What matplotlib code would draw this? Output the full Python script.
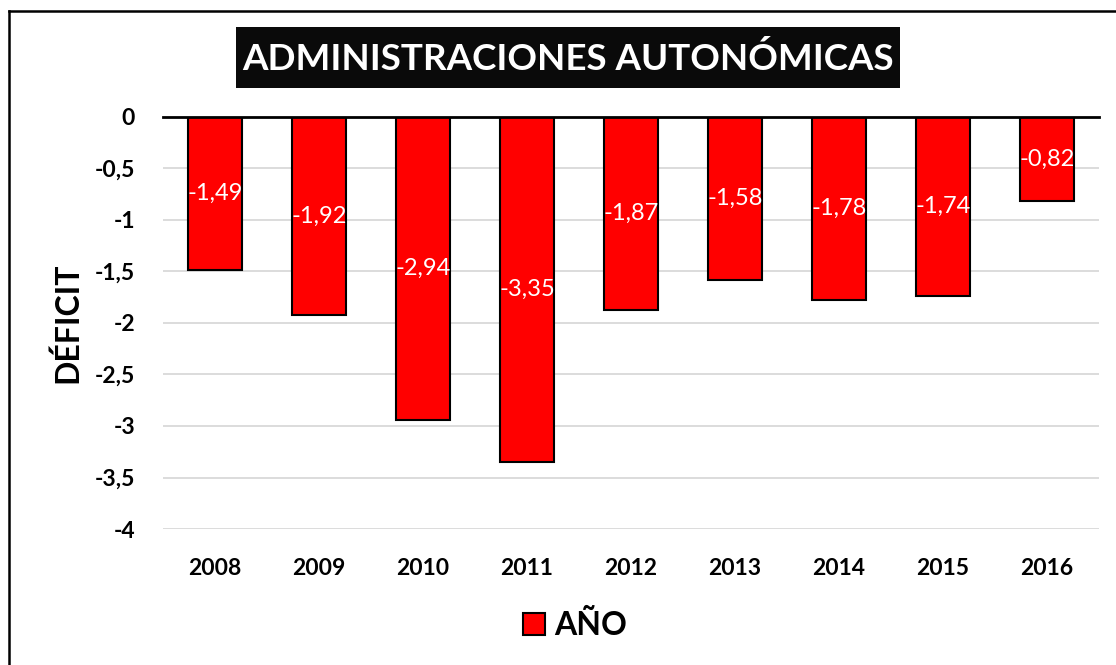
import numpy as np
import matplotlib
matplotlib.use("Agg")
import matplotlib.pyplot as plt
from matplotlib.patches import Patch, Rectangle
from matplotlib.lines import Line2D

# --- DATOS ---
years = ["2008", "2009", "2010", "2011", "2012", "2013", "2014", "2015", "2016"]
deficit = [-1.49, -1.92, -2.94, -3.35, -1.87, -1.58, -1.78, -1.74, -0.82]
yticks = [0, -0.5, -1, -1.5, -2, -2.5, -3, -3.5, -4]

plt.rcParams['font.family'] = ['Lato', 'DejaVu Sans']

W, H = 1116, 665
fig = plt.figure(figsize=(W / 100, H / 100), dpi=100)
ax = fig.add_axes([163 / W, 1 - 529 / H, 936 / W, 412 / H])

x = np.arange(len(years))
ax.bar(x, deficit, width=0.51, color='#ff0000', edgecolor='black', linewidth=1.5, zorder=3)

for xi, v in zip(x, deficit):
    ax.text(xi, v / 2, f"{v:.2f}".replace('.', ','), ha='center', va='center',
            color='white', fontsize=17, zorder=4)

ax.set_xlim(-0.5, len(years) - 0.5)
ax.set_ylim(-4, 0)
ax.set_yticks(yticks)
ax.set_yticklabels([f"{t:g}".replace('.', ',') for t in yticks], fontsize=16.5, fontweight='bold')
ax.set_xticks(x)
ax.set_xticklabels(years, fontsize=16.5, fontweight='bold')
ax.tick_params(axis='y', length=0, pad=20)
ax.tick_params(axis='x', length=0, pad=21)
ax.grid(axis='y', color='#d9d9d9', linewidth=1.3, zorder=0)
for s in ['left', 'right', 'bottom']:
    ax.spines[s].set_visible(False)
ax.spines['top'].set_linewidth(2)
ax.spines['top'].set_zorder(5)

ax.set_ylabel("DÉFICIT", fontsize=23, fontweight='bold')
ax.yaxis.set_label_coords(-(163 - 67) / 936, 0.5)
ax.yaxis.label.set_va('center')

# Titulo en recuadro negro
fig.add_artist(Rectangle((236 / W, 1 - 88 / H), 664 / W, 61 / H, transform=fig.transFigure,
                         facecolor='#0a0a0a', edgecolor='none'))
fig.text(568 / W, 1 - 59 / H, "ADMINISTRACIONES AUTONÓMICAS", ha='center', va='center',
         color='white', fontsize=26.5, fontweight='bold')

# Leyenda
handle = Patch(facecolor='#ff0000', edgecolor='black', linewidth=1.5)
fig.legend([handle], ["AÑO"], loc='center', bbox_to_anchor=(575 / W, 1 - 625 / H),
           frameon=False, prop={'size': 23, 'weight': 'bold'},
           handlelength=0.7, handleheight=0.7, handletextpad=0.3)

# Marco exterior (recortado a la derecha y abajo)
fig.add_artist(Line2D([9 / W, 1], [1 - 11 / H, 1 - 11 / H], color='black', linewidth=1.8))
fig.add_artist(Line2D([9 / W, 9 / W], [0, 1 - 11 / H], color='black', linewidth=1.8))

fig.savefig("out.png", dpi=100)
